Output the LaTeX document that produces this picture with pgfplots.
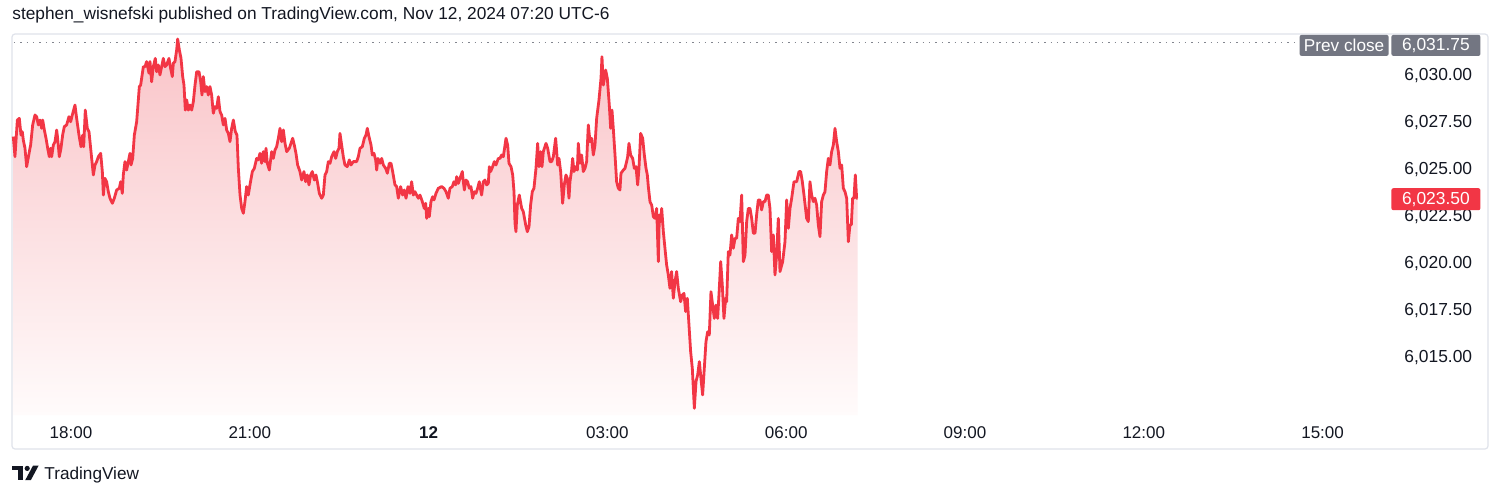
\documentclass[border=0pt]{standalone}
\usepackage{pgfplots}
\pgfplotsset{compat=1.18}
\usepackage{pgfplotstable}
\usepackage{fontspec}
\setmainfont{Liberation Sans}
\definecolor{tvred}{RGB}{242,54,69}
\definecolor{tvtext}{RGB}{19,23,34}
\definecolor{tvgray}{RGB}{115,118,130}
\definecolor{tvframe}{RGB}{224,227,235}
\definecolor{tvdot}{RGB}{130,133,142}
\definecolor{filltop}{RGB}{249,196,200}
\definecolor{fillbot}{RGB}{255,251,251}

\pgfplotstableread{
h p
-0.968 6026.75
-0.940 6025.68
-0.900 6027.63
-0.867 6027.72
-0.839 6026.83
-0.817 6027.01
-0.800 6026.57
-0.772 6026.13
-0.744 6025.15
-0.688 6026.13
-0.677 6026.30
-0.643 6027.37
-0.604 6027.90
-0.576 6027.81
-0.548 6027.37
-0.520 6027.63
-0.492 6027.19
-0.475 6027.63
-0.447 6027.10
-0.419 6026.66
-0.391 6026.13
-0.364 6025.68
-0.341 6026.13
-0.324 6025.68
-0.296 6026.30
-0.268 6026.48
-0.240 6027.10
-0.224 6026.66
-0.196 6025.68
-0.168 6026.13
-0.140 6026.83
-0.112 6027.28
-0.073 6027.37
-0.034 6027.81
-0.006 6027.54
0.022 6027.90
0.067 6028.43
0.095 6027.72
0.134 6026.83
0.168 6026.21
0.196 6026.83
0.213 6026.21
0.240 6028.16
0.274 6027.19
0.302 6027.01
0.319 6026.48
0.347 6025.59
0.375 6024.71
0.403 6025.24
0.431 6025.42
0.459 6025.68
0.498 6025.86
0.526 6024.89
0.543 6023.64
0.570 6024.53
0.598 6024.35
0.626 6023.82
0.654 6023.47
0.694 6023.20
0.727 6023.47
0.766 6023.91
0.811 6024.00
0.833 6024.35
0.861 6023.73
0.878 6024.71
0.906 6025.42
0.934 6024.97
0.962 6025.42
0.990 6025.86
1.007 6025.24
1.035 6025.59
1.063 6026.83
1.102 6027.54
1.147 6029.41
1.169 6029.49
1.214 6030.47
1.242 6030.47
1.270 6030.74
1.309 6030.12
1.326 6030.74
1.353 6029.67
1.381 6030.47
1.415 6030.91
1.437 6030.20
1.465 6030.56
1.493 6030.03
1.521 6030.47
1.549 6030.91
1.577 6030.47
1.605 6030.56
1.644 6030.91
1.672 6030.38
1.700 6029.94
1.717 6030.65
1.745 6030.74
1.773 6031.36
1.790 6031.94
1.818 6031.36
1.846 6030.91
1.874 6029.94
1.896 6029.49
1.918 6028.16
1.941 6028.70
1.969 6028.16
1.997 6028.43
2.025 6028.16
2.053 6028.61
2.081 6029.49
2.109 6030.20
2.148 6030.20
2.176 6029.67
2.198 6028.96
2.220 6029.94
2.248 6029.14
2.276 6029.41
2.304 6028.96
2.332 6029.41
2.360 6028.96
2.388 6027.99
2.416 6028.34
2.444 6028.25
2.472 6028.87
2.500 6028.08
2.528 6027.90
2.556 6027.37
2.584 6027.72
2.612 6027.10
2.640 6026.92
2.668 6026.48
2.696 6027.19
2.724 6027.63
2.757 6027.01
2.785 6026.83
2.808 6025.06
2.836 6023.64
2.864 6022.93
2.892 6022.67
2.919 6023.29
2.947 6024.09
2.975 6023.64
3.003 6024.18
3.043 6024.89
3.076 6025.06
3.115 6025.59
3.143 6025.51
3.171 6025.86
3.199 6025.33
3.227 6025.95
3.255 6025.42
3.272 6026.13
3.294 6025.33
3.328 6024.97
3.367 6025.95
3.395 6025.59
3.423 6026.04
3.451 6026.21
3.479 6026.66
3.507 6027.19
3.535 6026.48
3.563 6027.10
3.591 6026.39
3.619 6025.95
3.663 6026.13
3.691 6026.39
3.719 6026.66
3.747 6026.30
3.775 6025.86
3.803 6025.24
3.842 6024.89
3.870 6024.44
3.909 6024.89
3.937 6024.35
3.965 6024.71
3.993 6024.18
4.021 6024.71
4.049 6024.89
4.083 6024.44
4.111 6024.71
4.139 6024.26
4.167 6023.73
4.206 6023.47
4.234 6023.64
4.262 6024.71
4.290 6024.89
4.318 6025.42
4.346 6025.33
4.374 6025.68
4.413 6025.95
4.441 6025.59
4.469 6025.95
4.497 6026.13
4.513 6026.92
4.541 6026.30
4.569 6025.68
4.597 6025.24
4.636 6025.15
4.670 6025.51
4.698 6025.24
4.737 6025.42
4.793 6025.42
4.821 6025.68
4.849 6026.13
4.888 6026.21
4.922 6026.66
4.950 6026.83
4.972 6027.19
4.994 6026.83
5.034 6026.30
5.056 6025.77
5.084 6025.86
5.112 6025.51
5.129 6024.97
5.151 6025.59
5.185 6025.33
5.213 6025.59
5.241 6025.24
5.280 6025.06
5.308 6024.80
5.341 6025.33
5.369 6025.33
5.397 6024.89
5.436 6024.18
5.464 6024.09
5.492 6023.47
5.531 6024.09
5.565 6023.64
5.593 6023.91
5.621 6023.47
5.654 6024.09
5.688 6023.73
5.716 6024.35
5.744 6023.64
5.772 6023.82
5.800 6023.64
5.828 6023.47
5.856 6023.64
5.895 6023.29
5.928 6022.93
5.951 6023.20
5.968 6022.40
5.996 6022.93
6.012 6022.49
6.040 6023.29
6.068 6023.55
6.091 6023.38
6.124 6023.73
6.163 6024.00
6.219 6024.09
6.258 6024.00
6.292 6023.82
6.331 6023.47
6.359 6024.00
6.398 6024.09
6.426 6024.35
6.454 6024.18
6.471 6024.62
6.499 6024.26
6.527 6024.53
6.566 6024.89
6.583 6024.35
6.600 6023.91
6.628 6024.44
6.655 6024.35
6.683 6024.00
6.711 6024.09
6.739 6023.47
6.767 6023.82
6.795 6023.73
6.823 6024.00
6.851 6024.35
6.874 6023.91
6.890 6023.64
6.918 6024.35
6.946 6024.44
6.974 6024.18
7.002 6024.26
7.019 6025.15
7.041 6024.89
7.075 6025.15
7.103 6025.42
7.131 6025.24
7.170 6025.59
7.198 6025.59
7.226 6025.77
7.254 6025.68
7.299 6026.66
7.327 6026.30
7.349 6025.33
7.383 6025.15
7.411 6024.71
7.433 6023.82
7.450 6022.14
7.466 6021.69
7.489 6023.11
7.522 6023.64
7.562 6022.93
7.589 6022.76
7.629 6022.05
7.657 6021.69
7.685 6021.96
7.712 6023.11
7.740 6023.82
7.768 6024.00
7.802 6025.06
7.830 6026.39
7.852 6025.15
7.880 6025.95
7.903 6025.15
7.925 6025.95
7.970 6026.39
7.998 6026.13
8.037 6025.42
8.065 6025.42
8.093 6025.68
8.132 6026.66
8.166 6025.24
8.188 6025.59
8.216 6024.89
8.249 6023.20
8.277 6024.18
8.305 6024.71
8.328 6024.53
8.356 6023.47
8.372 6024.35
8.400 6024.97
8.417 6025.59
8.440 6024.89
8.468 6025.15
8.496 6024.97
8.512 6026.39
8.540 6025.33
8.568 6025.77
8.596 6024.89
8.624 6025.06
8.652 6025.42
8.680 6027.37
8.708 6026.48
8.736 6026.66
8.764 6025.77
8.792 6026.30
8.820 6027.72
8.859 6028.70
8.893 6029.85
8.909 6031.00
8.932 6029.49
8.971 6030.29
8.999 6029.85
9.032 6028.43
9.055 6027.19
9.077 6028.16
9.099 6027.19
9.128 6025.77
9.155 6024.35
9.183 6024.00
9.211 6023.91
9.228 6024.80
9.267 6024.97
9.295 6025.06
9.323 6025.42
9.340 6025.68
9.362 6026.39
9.390 6025.77
9.424 6025.59
9.452 6025.06
9.480 6025.15
9.508 6024.18
9.530 6025.06
9.558 6026.92
9.592 6026.66
9.620 6025.77
9.648 6025.06
9.670 6024.71
9.687 6024.09
9.715 6023.29
9.743 6023.11
9.771 6022.49
9.799 6022.40
9.827 6022.93
9.855 6020.10
9.872 6022.58
9.894 6022.23
9.911 6022.93
9.939 6021.69
9.966 6020.81
9.994 6019.92
10.022 6019.39
10.050 6018.68
10.078 6019.57
10.106 6018.15
10.134 6019.03
10.162 6019.57
10.190 6018.68
10.229 6017.97
10.257 6018.32
10.285 6018.41
10.313 6017.44
10.341 6018.15
10.369 6016.73
10.397 6015.31
10.425 6014.42
10.459 6012.30
10.487 6013.72
10.515 6014.07
10.543 6014.78
10.570 6013.89
10.598 6013.01
10.626 6014.42
10.654 6015.84
10.682 6016.37
10.710 6016.20
10.738 6018.50
10.766 6017.79
10.794 6017.08
10.822 6017.79
10.850 6017.08
10.878 6018.68
10.901 6020.10
10.928 6018.86
10.956 6017.08
10.984 6018.15
11.001 6017.97
11.029 6020.63
11.057 6020.45
11.085 6021.52
11.113 6020.81
11.141 6021.34
11.169 6021.34
11.197 6022.40
11.225 6022.23
11.253 6023.64
11.281 6020.10
11.309 6020.45
11.337 6022.23
11.365 6022.93
11.393 6022.93
11.421 6022.40
11.449 6021.61
11.477 6021.61
11.504 6022.58
11.532 6023.38
11.560 6023.38
11.588 6022.85
11.616 6023.29
11.644 6023.29
11.672 6023.64
11.700 6023.64
11.728 6022.93
11.756 6020.63
11.784 6021.52
11.812 6019.39
11.840 6020.45
11.868 6022.40
11.896 6019.57
11.941 6020.10
11.980 6021.16
12.008 6023.38
12.036 6021.87
12.064 6022.93
12.092 6023.47
12.131 6024.35
12.176 6024.35
12.215 6024.89
12.243 6024.89
12.271 6024.35
12.299 6023.64
12.343 6022.40
12.371 6022.23
12.399 6024.35
12.427 6023.64
12.455 6023.29
12.483 6023.47
12.511 6023.11
12.539 6022.05
12.567 6021.43
12.595 6023.29
12.623 6023.64
12.651 6023.82
12.679 6024.89
12.707 6025.59
12.735 6025.24
12.763 6025.95
12.791 6026.30
12.819 6027.19
12.847 6026.48
12.875 6025.95
12.903 6025.06
12.931 6025.24
12.959 6024.00
12.987 6023.82
13.015 6023.47
13.043 6021.16
13.070 6022.05
13.093 6022.05
13.115 6023.47
13.138 6023.47
13.160 6024.71
13.182 6023.47
13.199 6023.47
}\pricedata

\begin{document}
\begin{tikzpicture}
% page (1500 x 495 px at 0.5pt per px)
\fill[white] (0pt,0pt) rectangle (750pt,247.5pt);
% chart frame
\draw[tvframe, line width=0.6pt, rounded corners=1.5pt] (6pt,23pt) rectangle (744pt,230.5pt);
% title
\node[anchor=west, inner sep=0pt, text=tvtext, font=\fontsize{8.65pt}{10pt}\selectfont] at (6pt,240pt)
  {stephen\_wisnefski published on TradingView.com, Nov 12, 2024 07:20 UTC-6};
% TradingView logo
\begin{scope}[yshift=-1.3pt]
\fill[tvtext] (6pt,16pt) rectangle (11.5pt,13.6pt);
\fill[tvtext] (8.8pt,16pt) rectangle (11.5pt,8.7pt);
\fill[tvtext] (13.6pt,14.6pt) circle (1.3pt);
\fill[tvtext] (12.6pt,8.7pt) -- (15.4pt,8.7pt) -- (19.3pt,16pt) -- (16.5pt,16pt) -- cycle;
\end{scope}
\node[anchor=west, inner sep=0pt, text=tvtext, font=\fontsize{8.6pt}{10pt}\selectfont] at (22pt,10.2pt) {TradingView};

\begin{axis}[
  at={(6.5pt,40pt)}, anchor=south west,
  width=689pt, height=190pt, scale only axis,
  xmin=-0.973, xmax=22.148,
  ymin=6011.941, ymax=6032.154,
  axis line style={draw=none},
  major tick length=0pt,
  xtick={0,3,6,9,12,15,18,21},
  xticklabels={18:00,21:00,\textbf{12},03:00,06:00,09:00,12:00,15:00},
  xticklabel style={anchor=center, yshift=-9pt, inner sep=0pt, text=tvtext, font=\fontsize{8.5pt}{10pt}\selectfont},
  ytick={6015,6017.5,6020,6022.5,6025,6027.5,6030},
  yticklabel pos=right,
  yticklabel style={anchor=west, xshift=6.5pt, inner sep=0pt, text=tvtext, font=\fontsize{8.7pt}{10pt}\selectfont,
    /pgf/number format/.cd, fixed, fixed zerofill, precision=2, 1000 sep={,}, assume math mode=true},
  clip=false,
]
% gradient area under the price line
\addplot[draw=none, top color=filltop, bottom color=fillbot, forget plot] table[x=h, y=p] {\pricedata}
  -- (axis cs:13.199,6011.941) -- (axis cs:-0.968,6011.941) -- cycle;
% previous close reference line
\addplot[tvdot, line width=0.7pt, dash pattern=on 0.7pt off 2.5pt, forget plot]
  coordinates {(-0.96,6031.75) (20.55,6031.75)};
\addplot[tvred, line width=1.4pt, line join=round, forget plot] table[x=h, y=p] {\pricedata};
% price scale labels
\node[anchor=east, fill=tvgray, text=white, inner sep=0pt, minimum width=44.5pt, minimum height=10.5pt,
  rounded corners=1pt, xshift=-1pt, yshift=-1.4pt, font=\fontsize{8.6pt}{10pt}\selectfont] at (axis cs:22.148,6031.75) {Prev close};
\node[anchor=west, fill=tvgray, text=white, inner sep=0pt, minimum width=44.5pt, minimum height=10.5pt,
  rounded corners=1pt, yshift=-1.4pt, font=\fontsize{8.7pt}{10pt}\selectfont] at (axis cs:22.148,6031.75) {6,031.75};
\node[anchor=west, fill=tvred, text=white, inner sep=0pt, minimum width=44.5pt, minimum height=11pt,
  rounded corners=1pt, font=\fontsize{8.7pt}{10pt}\selectfont] at (axis cs:22.148,6023.42) {6,023.50};
\end{axis}
\end{tikzpicture}
\end{document}
